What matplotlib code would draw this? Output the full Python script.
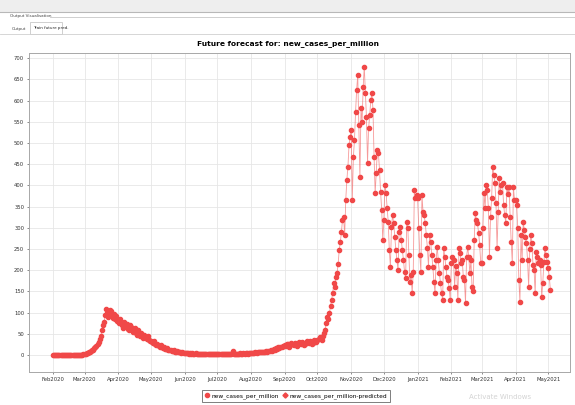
import numpy as np
import pandas as pd
import matplotlib
matplotlib.use("Agg")
import matplotlib.pyplot as plt
import matplotlib.dates as mdates
from matplotlib.patches import Rectangle
from matplotlib.lines import Line2D

# daily values, one list per month
feb20 = [0, 0, 0, 0, 0, 0, 0, 0, 0, 0, 0, 0, 0, 0, 0, 0, 0, 0, 0, 0, 0, 0, 0, 0, 0, 0, 1, 1, 2]
mar20 = [2, 3, 4, 5, 6, 8, 9, 11, 13, 16, 18, 22, 26, 31, 38, 45, 59, 70, 79, 94,
         108, 100, 90, 106, 104, 95, 88, 97, 85, 92, 80]
apr20 = [82, 75, 86, 70, 64, 78, 72, 68, 74, 62, 58, 70, 66, 60, 55, 64, 52, 48, 58, 50,
         46, 52, 44, 40, 48, 42, 38, 44, 36, 33]
may20 = [34, 30, 28, 32, 26, 24, 27, 22, 20, 23, 18, 17, 20, 15, 14, 16, 12, 11, 13, 10,
         9, 11, 8, 8, 9, 7, 6, 7, 5, 6, 5]
jun20 = [5, 4, 4, 5, 3, 4, 3, 4, 3, 3, 4, 2, 3, 3, 2, 3, 2, 3, 2, 2,
         3, 2, 2, 3, 2, 2, 2, 3, 2, 2]
jul20 = [2, 2, 3, 2, 2, 2, 3, 3, 2, 2, 3, 3, 2, 3, 9, 3, 3, 2, 3, 3,
         3, 4, 3, 3, 4, 3, 4, 4, 3, 4, 4]
aug20 = [4, 5, 5, 4, 6, 5, 6, 7, 6, 6, 8, 7, 8, 7, 9, 8, 10, 9, 11, 10,
         12, 14, 13, 16, 15, 18, 17, 20, 19, 22, 21]
sep20 = [24, 22, 27, 25, 20, 23, 28, 26, 24, 29, 27, 21, 25, 30, 28, 26, 31, 29, 23, 27,
         33, 31, 28, 33, 30, 25, 29, 36, 34, 31]
oct20 = [35, 38, 43, 40, 36, 45, 52, 60, 75, 90, 85, 99, 115, 130, 146, 170, 160, 185, 193, 215,
         248, 266, 290, 318, 325, 283, 366, 413, 444, 495, 515]
nov20 = [530, 366, 467, 507, 573, 625, 660, 542, 420, 582, 550, 632, 680, 618, 561, 453, 535, 566, 601, 618,
         578, 467, 382, 429, 483, 476, 436, 384, 342, 271]
dec20 = [318, 401, 382, 347, 314, 248, 208, 302, 330, 311, 278, 248, 224, 200, 290, 302, 271, 248, 224, 196,
         181, 314, 299, 236, 172, 189, 146, 196, 389, 370, 377]
jan21 = [370, 300, 236, 196, 377, 337, 330, 311, 283, 252, 208, 283, 266, 236, 208, 172, 146, 224, 255, 224,
         193, 170, 146, 130, 252, 231, 208, 184, 177, 158, 130]
feb21 = [217, 231, 224, 160, 210, 193, 130, 252, 240, 217, 224, 184, 177, 123, 231, 255, 231, 193, 224, 160,
         150, 271, 335, 318, 311, 288, 260, 217]
mar21 = [217, 300, 382, 347, 401, 389, 347, 231, 326, 370, 444, 425, 405, 358, 252, 337, 417, 384, 400, 405,
         354, 330, 311, 396, 380, 396, 326, 266, 217, 396, 366]
apr21 = [366, 354, 299, 177, 125, 283, 224, 314, 295, 278, 264, 224, 160, 250, 283, 264, 212, 200, 146, 243,
         231, 217, 225, 212, 137, 170, 219, 252, 236, 220]
may21 = [205, 184, 153]

cases = (feb20 + mar20 + apr20 + may20 + jun20 + jul20 + aug20 + sep20 + oct20 + nov20
         + dec20 + jan21 + feb21 + mar21 + apr21 + may21)
dates = pd.date_range("2020-02-01", periods=len(cases), freq="D")
predicted = []  # drawn on top of the same red points in the reference

title = "Future forecast for: new_cases_per_million"
labels = ["new_cases_per_million", "new_cases_per_million-predicted"]
red = "#f04848"

W, H = 575, 405
fig = plt.figure(figsize=(W / 100, H / 100), dpi=100)
fig.patch.set_facecolor("white")

def fx(px):
    return px / W

def fy(py):
    return 1 - py / H

# window chrome
fig.patches.append(Rectangle((0, fy(12)), 1, fy(0) - fy(12), transform=fig.transFigure,
                             facecolor="#eeeeee", edgecolor="none"))
fig.lines.append(Line2D([0, 1], [fy(12), fy(12)], transform=fig.transFigure, color="#b8b8b8", lw=0.8))
fig.lines.append(Line2D([fx(50), 1], [fy(17), fy(17)], transform=fig.transFigure, color="#c8c8c8", lw=0.6))
fig.lines.append(Line2D([0, 1], [fy(34), fy(34)], transform=fig.transFigure, color="#d0d0d0", lw=0.6))
fig.patches.append(Rectangle((fx(30), fy(34)), fx(32), fy(22) - fy(34), transform=fig.transFigure,
                             facecolor="white", edgecolor="#c8c8c8", lw=0.6))
fig.text(fx(10), fy(16), "Output Visualisation", fontsize=3, color="#444444", va="center")
fig.text(fx(12), fy(29), "Output", fontsize=3, color="#444444", va="center")
fig.text(fx(33), fy(28), "Train future pred.", fontsize=3, color="#222222", va="center")
fig.text(fx(288), fy(44), title, fontsize=5.4, fontweight="bold", ha="center", va="center")

ax = fig.add_axes([fx(29), fy(372), fx(570) - fx(29), fy(53) - fy(372)])
ax.plot(dates, cases, color=red, lw=0.6, alpha=0.55, zorder=2)
ax.plot(dates, cases, ls="none", marker="o", ms=3.0, color=red, zorder=3, label=labels[0])
ax.plot(dates[:len(predicted)], predicted, ls="none", marker="D", ms=2.6, color=red, label=labels[1])

ax.set_ylim(-40, 712)
ax.set_xlim(pd.Timestamp("2020-01-10"), pd.Timestamp("2021-05-21"))
ax.set_yticks(np.arange(0, 701, 50))
ax.xaxis.set_major_locator(mdates.MonthLocator())
ax.xaxis.set_major_formatter(mdates.DateFormatter("%b%Y"))
ax.tick_params(labelsize=3.8, length=1.5, width=0.4, colors="#333333", pad=2)
ax.grid(True, color="#e6e6e6", lw=0.6)
ax.set_axisbelow(True)
for s in ax.spines.values():
    s.set_color("#a8a8a8")
    s.set_linewidth(0.7)

leg = fig.legend(loc="center", bbox_to_anchor=(fx(296), fy(396)), ncol=2, fontsize=4.2,
                 frameon=True, fancybox=False, handlelength=0.8, handletextpad=0.4,
                 columnspacing=0.6, borderpad=0.45)
leg.get_frame().set_edgecolor("#444444")
leg.get_frame().set_linewidth(0.6)

fig.text(fx(500), fy(397), "Activate Windows", fontsize=5, color="#d4d4d4", ha="center", va="center")

fig.savefig("out.png", dpi=100)
